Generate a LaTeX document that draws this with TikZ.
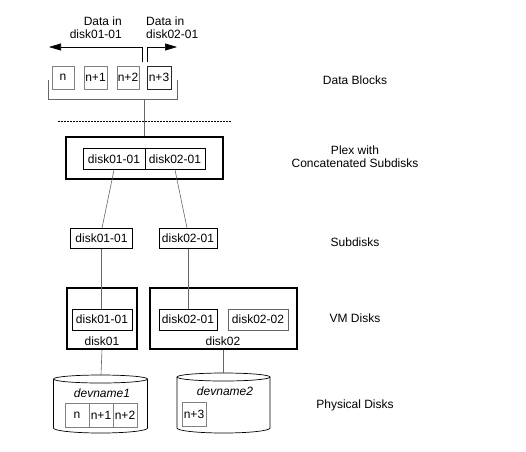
\documentclass[tikz,border=0pt]{standalone}
\usepackage{fontspec}
\setmainfont{Liberation Sans}
\usetikzlibrary{arrows.meta}
\begin{document}
\begin{tikzpicture}[x=1pt,y=-1pt,
  every node/.style={font=\fontsize{12}{13}\selectfont, inner sep=0pt},
  blk/.style={draw=black!50, line width=0.7pt, minimum height=23pt},
  inbox/.style={draw, line width=0.7pt, minimum height=21pt},
  outbox/.style={draw, line width=1.2pt},
  conn/.style={draw=black!60, line width=0.6pt},
  lbl/.style={align=center}]
\useasboundingbox (0,0) rectangle (526,451);
% data blocks
\node[blk, minimum width=22pt] (b0) at (63,77.5) {n};
\node[blk, minimum width=23pt] (b1) at (95.5,77.5) {n+1};
\node[blk, minimum width=22pt] (b2) at (128,77.5) {n+2};
\node[blk, draw=black!85, minimum width=24pt] (b3) at (159,77.5) {n+3};
\draw[conn] (48,80) -- (48,99) -- (177,99) -- (177,80);
\coordinate (stem) at (144.5,99);
% arrows
\coordinate (la) at (142,62);
\coordinate (ra) at (147,62);
\draw[line width=0.6pt, -{Triangle[length=12pt,width=7pt]}] (la) -- (142,47) -- (49,47);
\draw[line width=0.6pt, -{Triangle[length=12pt,width=7pt]}] (ra) -- (147,47) -- (177,47);
\node[align=right, anchor=east] (t1) at (122,27.5) {Data in\\disk01-01};
\node[align=left, anchor=west] (t2) at (146,27.5) {Data in\\disk02-01};
% dotted line
\draw[line width=0.7pt, dash pattern=on 1.5pt off 1.5pt] (58,121) -- (232,121);
% plex
\node[outbox, minimum width=157pt, minimum height=42pt] (plex) at (144.5,158) {};
\node[inbox, minimum width=62pt] (p1) at (114,159) {disk01-01};
\node[inbox, minimum width=60pt] (p2) at (175,159) {disk02-01};
\draw[conn] (stem) -- (plex.north -| stem);
% subdisks
\node[inbox, line width=1pt, minimum width=62pt, minimum height=20pt] (s1) at (101.5,238.5) {disk01-01};
\node[inbox, line width=1pt, minimum width=58pt, minimum height=20pt] (s2) at (188,238.5) {disk02-01};
\draw[conn] (p1.south) -- ([xshift=0.5pt]s1.north);
\draw[conn] (p2.south) -- ([xshift=-1pt]s2.north);
% VM disks
\node[outbox, minimum width=70pt, minimum height=61pt] (vm1) at (102,318.5) {};
\node[inbox, minimum width=60pt] (v11) at (102,319.5) {disk01-01};
\node (d1) at (102,341) {disk01};
\node[outbox, minimum width=147pt, minimum height=61pt] (vm2) at (223.5,318.5) {};
\node[inbox, minimum width=58pt] (v21) at (188,319.5) {disk02-01};
\node[inbox, draw=black!60, minimum width=60pt] (v22) at (258,319.5) {disk02-02};
\node (d2) at (223,341) {disk02};
\draw[conn] (s1.south) -- (s1.south |- v11.north);
\draw[conn] (s2.south) -- (v21.north);
% physical disks
\coordinate (c1top) at (101,375);
\coordinate (c2top) at (223.5,373);
\draw[line width=0.7pt] (100.5,379) ellipse [x radius=47pt, y radius=4pt];
\draw[line width=0.7pt] (53.5,379) -- (53.5,428) arc[start angle=180, end angle=360, x radius=47pt, y radius=5pt] -- (147.5,379);
\draw[line width=0.7pt] (223.5,377) ellipse [x radius=46.5pt, y radius=4pt];
\draw[line width=0.7pt] (177,377) -- (177,428) arc[start angle=180, end angle=360, x radius=46.5pt, y radius=5pt] -- (270,377);
\draw[conn] (vm1.south) -- (c1top);
\draw[conn] (vm2.south) -- (c2top);
\node (dn1) at (102,393) {\itshape devname1};
\node (dn2) at (225,391) {\itshape devname2};
\node[blk, minimum height=24pt, minimum width=24pt] (q0) at (77,415) {n};
\node[blk, minimum height=24pt, minimum width=24pt] (q1) at (101,415) {n+1};
\node[blk, minimum height=24pt, minimum width=24pt] (q2) at (125,415) {n+2};
\node[blk, minimum height=24pt, minimum width=24pt] (q3) at (194,414.5) {n+3};
% right labels
\node[lbl] (L1) at (355,80) {Data Blocks};
\node[lbl] (L2) at (355,157) {Plex with\\Concatenated Subdisks};
\node[lbl] (L3) at (355,242) {Subdisks};
\node[lbl] (L4) at (355,318) {VM Disks};
\node[lbl] (L5) at (355,405) {Physical Disks};
\end{tikzpicture}
\end{document}
